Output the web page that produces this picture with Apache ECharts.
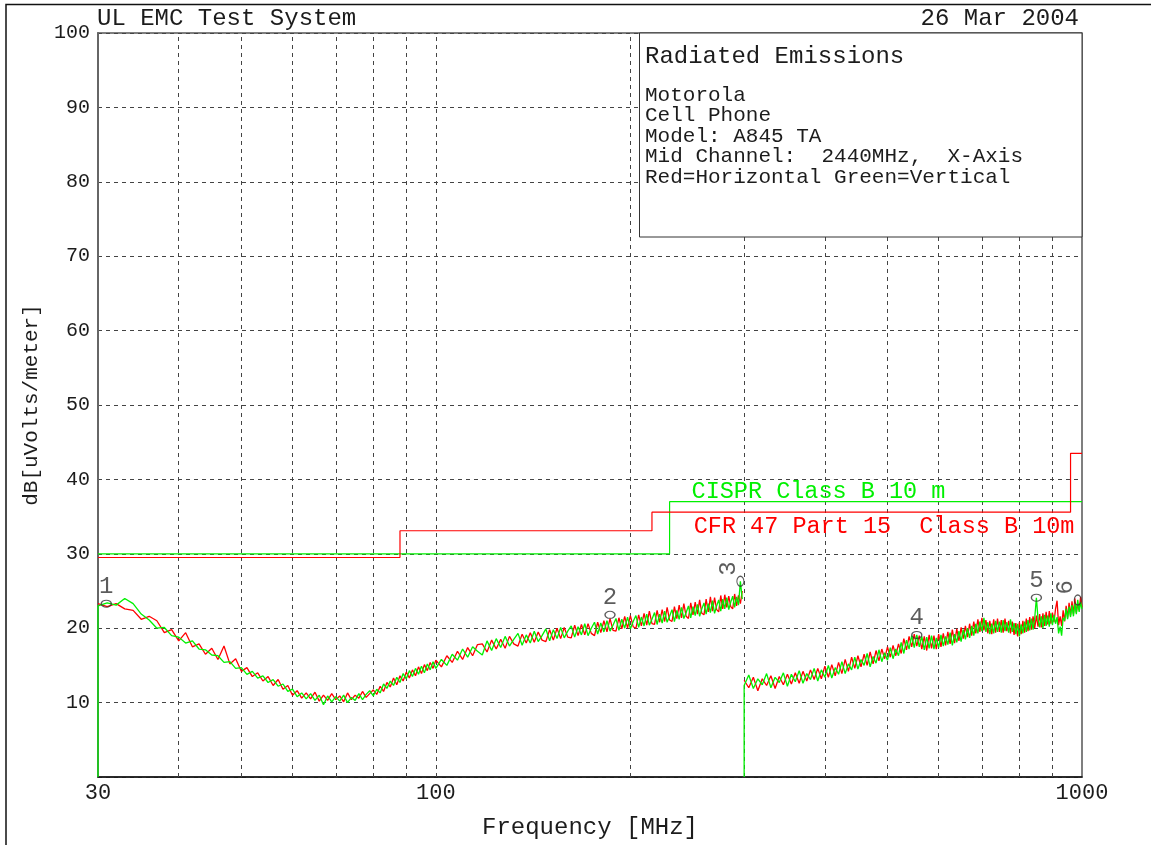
<!DOCTYPE html>
<html>
<head>
<meta charset="utf-8">
<script src="https://cdn.jsdelivr.net/npm/echarts@6/dist/echarts.min.js"></script>
<style>
  html, body { margin: 0; padding: 0; background: #ffffff; }
  #chart { width: 1151px; height: 845px; }
</style>
</head>
<body>
<div id="chart"></div>
<script>
// Sweep 1: 30 - 300 MHz, frequencies in MHz
const freqLow = [
  30, 31, 32, 33, 34, 35, 36, 37, 38, 39,
  40, 41, 42, 43, 44, 45, 46, 47, 48, 49,
  50, 51, 52, 53, 54, 55, 56, 57, 58, 59,
  60, 61, 62, 63, 64, 65, 66, 67, 68, 69,
  70, 71, 72, 73, 74, 75, 76, 77, 78, 79,
  80, 81, 82, 83, 84, 85, 86, 87, 88, 89,
  90, 91, 92, 93, 94, 95, 96, 97, 98, 99,
  100,
  102, 104, 106, 108, 110, 112, 114, 116, 118, 120,
  122, 124, 126, 128, 130, 132, 134, 136, 138, 140,
  142, 144, 146, 148, 150, 152, 154, 156, 158, 160,
  162, 164, 166, 168, 170, 172, 174, 176, 178, 180,
  182, 184, 186, 188, 190, 192, 194, 196, 198, 200,
  202, 204, 206, 208, 210, 212, 214, 216, 218, 220,
  222, 224, 226, 228, 230, 232, 234, 236, 238, 240,
  242, 244, 246, 248, 250, 252, 254, 256, 258, 260,
  262, 264, 266, 268, 270, 272, 274, 276, 278, 280,
  282, 284, 286, 288, 290, 292, 294, 296, 298
];
// Horizontal polarisation (red), dBuV/m
const horizLow = [
  23.3, 22.9, 23.3, 22.6, 22.4, 21.2, 21.6, 21.0, 19.4, 19.8,
  18.3, 19.4, 17.5, 17.9, 16.5, 17.3, 15.8, 17.6, 15.2, 15.9,
  14.2, 14.7, 13.5, 14.0, 12.9, 13.5, 12.3, 13.1, 11.8, 12.3,
  11.0, 11.6, 10.6, 11.3, 10.5, 11.4, 10.2, 11.0, 10.3, 11.2,
  10.4, 10.9, 10.1, 11.3, 10.4, 11.0, 10.6, 11.5, 10.7, 11.2,
  11.7, 11.1, 12.2, 11.5, 12.7, 12.1, 13.3, 12.4, 13.6, 12.9,
  14.1, 13.3, 14.4, 13.6, 14.8, 13.9, 15.1, 14.3, 15.4, 14.6,
  15.7,
  14.8, 16.3, 15.4, 16.9, 15.8, 17.4, 16.3, 17.8, 17.9, 16.8,
  18.4, 17.2, 18.5, 17.3, 18.9, 17.9, 17.6, 19.2, 18.0, 19.4,
  18.1, 19.5, 18.4, 18.2, 19.8, 18.4, 20.0, 18.6, 20.1, 18.8,
  18.7, 20.4, 19.0, 20.5, 19.1, 20.6, 19.3, 19.0, 20.8, 19.4,
  21.0, 19.5, 21.3, 19.7, 19.6, 21.4, 19.9, 21.6, 20.0, 21.7,
  20.2, 20.0, 21.8, 20.3, 22.0, 20.4, 22.3, 20.6, 20.5, 22.4,
  20.8, 22.5, 20.9, 22.8, 21.1, 20.9, 22.9, 21.3, 23.1, 21.4,
  23.3, 21.6, 21.3, 23.4, 21.8, 23.5, 21.9, 23.8, 22.0, 21.8,
  23.9, 22.2, 24.2, 22.3, 24.1, 22.5, 22.2, 24.4, 22.6, 24.5,
  22.8, 24.3, 22.9, 22.6, 24.6, 23.0, 24.4, 23.3, 25.0
];
// Vertical polarisation (green), dBuV/m
const vertLow = [
  23.0, 23.4, 23.1, 24.0, 23.3, 21.9, 21.1, 20.0, 20.1, 19.0,
  18.8, 18.0, 18.3, 17.2, 17.1, 16.4, 16.3, 15.4, 15.5, 14.6,
  14.7, 13.8, 14.2, 13.3, 13.6, 12.7, 13.1, 12.2, 12.5, 11.5,
  11.8, 10.8, 11.3, 10.5, 11.2, 10.3, 11.0, 9.7, 10.9, 10.1,
  10.8, 10.2, 11.0, 10.0, 10.7, 10.3, 11.2, 10.4, 11.1, 11.6,
  10.9, 11.8, 11.3, 12.5, 11.9, 12.9, 12.3, 13.4, 12.7, 13.9,
  13.2, 14.3, 13.5, 14.6, 13.8, 14.9, 14.0, 15.2, 14.4, 15.5,
  14.6,
  15.8, 15.0, 16.5, 15.7, 17.2, 16.1, 17.5, 16.9, 16.4, 18.3,
  17.0, 18.6, 17.4, 18.9, 17.6, 18.5, 19.3, 17.7, 19.1, 18.0,
  19.6, 18.2, 19.0, 19.9, 18.3, 19.8, 18.6, 20.1, 18.7, 19.6,
  20.3, 18.8, 20.2, 19.1, 20.6, 19.0, 20.0, 20.8, 19.2, 20.7,
  19.5, 21.0, 19.6, 20.4, 21.3, 19.7, 21.2, 20.0, 21.5, 19.9,
  20.9, 21.7, 20.1, 21.5, 20.3, 21.9, 20.4, 21.2, 22.1, 20.5,
  21.9, 20.7, 22.3, 20.8, 21.6, 22.5, 20.9, 22.4, 21.2, 22.8,
  21.3, 22.1, 23.0, 21.4, 22.9, 21.7, 23.2, 21.6, 22.6, 23.4,
  21.9, 23.3, 22.1, 23.7, 22.0, 23.0, 23.8, 22.3, 23.9, 22.6,
  24.1, 22.5, 23.5, 24.3, 22.8, 24.2, 23.1, 26.3, 23.9
];

// Sweep 2: 300 - 1000 MHz
const freqHigh = [
  300, 305, 310, 315, 320, 325, 330, 335, 340, 345,
  350, 355, 360, 365, 370, 375, 380, 385, 390, 395,
  400, 405, 410, 415, 420, 425, 430, 435, 440, 445,
  450, 455, 460, 465, 470, 475, 480, 485, 490, 495,
  500, 505, 510, 515, 520, 525, 530, 535, 540, 545,
  550, 555, 560, 565, 570, 575, 580, 585, 590, 595,
  600, 605, 610, 615, 620, 625, 630, 635, 640, 645,
  650, 655, 660, 665, 670, 675, 680, 685, 690, 695,
  700, 705, 710, 715, 720, 725, 730, 735, 740, 745,
  750, 755, 760, 765, 770, 775, 780, 785, 790, 795,
  800, 805, 810, 815, 820, 825, 830, 835, 840, 845,
  850, 855, 860, 865, 870, 875, 880, 885, 890, 895,
  900, 905, 910, 915, 920, 925, 930, 935, 940, 945,
  950, 955, 960, 965, 970, 975, 980, 985, 990, 995,
  1000
];
const horizHigh = [
  13.0, 12.0, 13.4, 11.6, 13.2, 12.3, 13.6, 11.9, 13.5, 12.4,
  13.8, 12.5, 14.0, 12.6, 14.2, 12.9, 14.4, 13.1, 14.6, 13.2,
  14.9, 13.4, 15.1, 13.6, 15.4, 13.9, 15.8, 14.2, 16.1, 14.6,
  16.3, 14.8, 16.5, 15.0, 16.8, 15.2, 17.0, 15.6, 17.2, 15.9,
  17.5, 16.1, 17.7, 16.3, 17.9, 16.6, 18.6, 17.1, 18.9, 17.5,
  19.2, 17.6, 19.0, 17.2, 18.9, 17.0, 19.1, 17.3, 19.0, 17.2,
  19.2, 17.5, 19.3, 17.7, 19.5, 17.9, 19.8, 18.0, 19.9, 18.3,
  20.1, 18.6, 20.3, 18.8, 20.6, 19.0, 20.9, 19.3, 21.2, 19.5,
  21.4, 19.7, 21.1, 19.3, 21.0, 19.2, 21.2, 19.4, 21.3, 19.5,
  21.1, 19.4, 21.3, 19.6, 21.0, 19.3, 20.9, 19.1, 20.7, 18.9,
  20.8, 19.2, 21.0, 19.4, 21.3, 19.6, 21.5, 19.8, 21.6, 20.0,
  21.7, 20.2, 21.9, 20.1, 22.0, 20.3, 22.2, 20.5, 22.3, 20.6,
  22.1, 20.8, 22.6, 23.7, 20.4, 21.6, 20.3, 22.4, 20.9, 23.0,
  21.4, 23.4, 21.7, 23.6, 21.9, 24.0, 22.1, 23.3, 22.4, 24.2,
  22.8
];
const vertHigh = [
  12.3, 13.7, 11.9, 13.2, 12.4, 13.9, 12.0, 13.4, 12.7, 14.0,
  12.2, 13.8, 12.8, 14.3, 12.6, 13.9, 13.1, 14.6, 12.9, 14.4,
  13.4, 15.0, 13.3, 14.7, 13.8, 15.5, 13.9, 15.2, 14.4, 16.1,
  14.5, 15.8, 15.0, 16.6, 14.8, 16.2, 15.3, 17.1, 15.5, 16.7,
  15.7, 17.4, 15.9, 17.2, 16.3, 18.1, 16.6, 18.4, 17.2, 19.0,
  17.4, 19.1, 17.5, 18.9, 17.1, 18.8, 17.3, 19.0, 17.2, 18.7,
  17.4, 19.1, 17.6, 18.9, 17.8, 19.4, 17.7, 19.2, 18.1, 19.6,
  18.2, 19.8, 18.5, 20.0, 18.7, 20.3, 19.0, 20.6, 19.3, 20.9,
  19.6, 21.4, 19.5, 20.8, 19.2, 20.6, 19.3, 21.0, 19.5, 20.9,
  19.4, 21.1, 19.6, 20.8, 19.4, 21.2, 19.5, 20.7, 19.2, 20.6,
  18.9, 20.5, 19.3, 20.9, 19.5, 21.1, 19.7, 21.3, 19.8, 21.4,
  24.1, 21.2, 20.1, 21.6, 20.0, 21.8, 20.3, 21.7, 20.2, 22.0,
  20.4, 21.8, 20.6, 21.5, 19.3, 20.2, 19.0, 21.4, 21.0, 22.6,
  21.2, 22.9, 21.5, 23.1, 21.6, 23.3, 21.9, 23.8, 22.2, 23.5,
  22.6
];
// level each vertical sweep trace is started from
const sweepFloor = 0;

// Limit lines (step breakpoints)
const fccFreq = [30, 88, 216, 960, 1000];
const fccLimit = [29.5, 33.1, 35.6, 43.5, 43.5];
const cisprFreq = [30, 230, 1000];
const cisprLimit = [30, 37, 37];

// Peak markers
const markerNames = ['1', '2', '3', '4', '5', '6'];
const markerFreq = [30.9, 186, 296, 555, 850, 985];
const markerLevel = [23.3, 21.8, 26.3, 19.1, 24.1, 23.8];

// Axis ticks
const yTicks = [0, 10, 20, 30, 40, 50, 60, 70, 80, 90, 100];
const xLabelFreqs = [30, 100, 1000];
const xGridFreqs = [40, 50, 60, 70, 80, 90, 100, 200, 300, 400, 500, 600, 700, 800, 900];

const FONT = '"Liberation Mono", "DejaVu Sans Mono", monospace';
const INK = '#1c1c1c';
const RED = '#ff0000';
const GREEN = '#00f000';

const zip = (xs, ys) => xs.map((x, i) => [x, ys[i]]);
const rotatedMarkers = new Set(['3', '6']);

const chart = echarts.init(document.getElementById('chart'), null, { renderer: 'canvas' });

const traceStyle = (color) => ({
  type: 'line',
  showSymbol: false,
  symbol: 'none',
  silent: true,
  animation: false,
  sampling: null,
  lineStyle: { color: color, width: 1.3 },
  z: 3
});

const option = {
  backgroundColor: '#ffffff',
  animation: false,
  grid: {
    left: 98, top: 33, right: 69, bottom: 65,
    show: true, borderColor: '#555', borderWidth: 1.5, backgroundColor: 'transparent'
  },
  xAxis: {
    type: 'log',
    logBase: 10,
    min: xLabelFreqs[0],
    max: xLabelFreqs[xLabelFreqs.length - 1],
    name: 'Frequency [MHz]',
    nameLocation: 'middle',
    nameGap: 39,
    nameTextStyle: { fontFamily: FONT, fontSize: 24, color: INK },
    axisLine: { show: true, lineStyle: { color: '#111', width: 1.5 } },
    axisTick: { show: false },
    splitLine: { show: false },
    axisLabel: {
      customValues: xLabelFreqs,
      margin: 5,
      fontFamily: FONT, fontSize: 22, color: INK,
      formatter: (v) => String(Math.round(v))
    }
  },
  yAxis: {
    type: 'value',
    min: yTicks[0],
    max: yTicks[yTicks.length - 1],
    interval: 10,
    name: 'dB[uVolts/meter]',
    nameLocation: 'middle',
    nameRotate: 90,
    nameGap: 56,
    nameTextStyle: { fontFamily: FONT, fontSize: 21, color: INK },
    axisLine: { show: true, lineStyle: { color: '#666', width: 2 } },
    axisTick: { show: false },
    axisLabel: {
      showMinLabel: false,
      margin: 8,
      fontFamily: FONT, fontSize: 20, color: INK
    },
    splitLine: { show: true, lineStyle: { color: '#444', width: 1, type: [4, 4] } }
  },
  series: [
    {
      name: 'CISPR Class B 10 m',
      type: 'line',
      step: 'end',
      showSymbol: false,
      symbol: 'none',
      silent: true,
      data: zip(cisprFreq, cisprLimit),
      lineStyle: { color: GREEN, width: 1.2 },
      z: 2,
      markLine: {
        silent: true,
        symbol: ['none', 'none'],
        label: { show: false },
        lineStyle: { color: '#444', width: 1, type: [4, 4] },
        data: xGridFreqs.map((f) => ({ xAxis: f })),
        z: 1
      },
      markPoint: {
        silent: true,
        symbol: 'circle',
        symbolSize: 0,
        data: [{ coord: [240, 38.3], value: 0 }],
        label: {
          show: true, position: 'right', distance: 10,
          formatter: 'CISPR Class B 10 m',
          fontFamily: FONT, fontSize: 23.5, color: GREEN
        }
      }
    },
    {
      name: 'CFR 47 Part 15  Class B 10m',
      type: 'line',
      step: 'end',
      showSymbol: false,
      symbol: 'none',
      silent: true,
      data: zip(fccFreq, fccLimit),
      lineStyle: { color: RED, width: 1.2 },
      z: 2,
      markPoint: {
        silent: true,
        symbol: 'circle',
        symbolSize: 0,
        data: [{ coord: [241, 33.6], value: 0 }],
        label: {
          show: true, position: 'right', distance: 11,
          formatter: 'CFR 47 Part 15  Class B 10m',
          fontFamily: FONT, fontSize: 23.5, color: RED
        }
      }
    },
    Object.assign(traceStyle(RED), { name: 'Horizontal 30-300', data: zip(freqLow, horizLow) }),
    Object.assign(traceStyle(GREEN), {
      name: 'Vertical 30-300',
      data: [[freqLow[0], sweepFloor]].concat(zip(freqLow, vertLow))
    }),
    Object.assign(traceStyle(RED), { name: 'Horizontal 300-1000', data: zip(freqHigh, horizHigh) }),
    Object.assign(traceStyle(GREEN), {
      name: 'Vertical 300-1000',
      data: [[freqHigh[0], sweepFloor]].concat(zip(freqHigh, vertHigh))
    }),
    {
      name: 'Markers',
      type: 'scatter',
      silent: true,
      z: 5,
      data: markerNames.map((n, i) => {
        const rot = rotatedMarkers.has(n);
        return {
          name: n,
          value: [markerFreq[i], markerLevel[i]],
          symbolSize: rot ? [7, 10] : [10, 7],
          label: { rotate: rot ? 90 : 0, distance: rot ? 7 : 1 }
        };
      }),
      symbol: 'circle',
      itemStyle: { color: 'rgba(0,0,0,0)', borderColor: '#333', borderWidth: 1.2 },
      label: {
        show: true,
        position: 'top',
        formatter: (p) => p.name,
        fontFamily: FONT, fontSize: 24, color: '#333'
      }
    }
  ],
  graphic: [
    {
      type: 'polyline', silent: true, z: 100,
      shape: { points: [[6, 845], [6, 4.5], [1151, 4.5]] },
      style: { stroke: '#111', lineWidth: 1.5, fill: null }
    },
    {
      type: 'text', silent: true, z: 100, x: 97, y: 19,
      style: { text: 'UL EMC Test System', fontFamily: FONT, fontSize: 24, fill: INK, verticalAlign: 'middle', align: 'left' }
    },
    {
      type: 'text', silent: true, z: 100, x: 1079, y: 19,
      style: { text: '26 Mar 2004', fontFamily: FONT, fontSize: 24, fill: INK, verticalAlign: 'middle', align: 'right' }
    },
    {
      type: 'rect', silent: true, z: 100,
      shape: { x: 639.5, y: 33, width: 442.5, height: 204 },
      style: { fill: '#ffffff', stroke: '#333', lineWidth: 1 }
    },
    {
      type: 'text', silent: true, z: 101, x: 645, y: 57,
      style: { text: 'Radiated Emissions', fontFamily: FONT, fontSize: 24, fill: INK, verticalAlign: 'middle', align: 'left' }
    },
    {
      type: 'text', silent: true, z: 101, x: 645, y: 85,
      style: {
        text: 'Motorola\nCell Phone\nModel: A845 TA\nMid Channel:  2440MHz,  X-Axis\nRed=Horizontal Green=Vertical',
        fontFamily: FONT, fontSize: 21, lineHeight: 20.5, fill: INK, verticalAlign: 'top', align: 'left'
      }
    }
  ]
};

chart.setOption(option);
</script>
</body>
</html>
